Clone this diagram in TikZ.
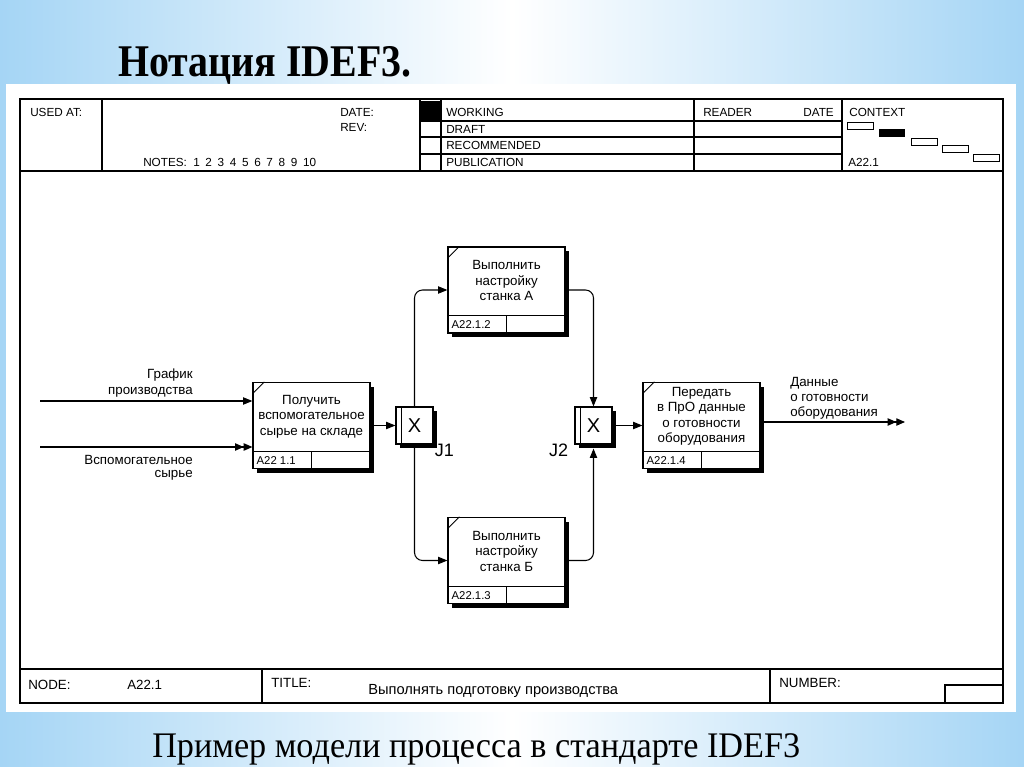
\documentclass[tikz,border=0pt]{standalone}
\usepackage{fontspec}
\setmainfont{Liberation Serif}
\setsansfont{Liberation Sans}
\newfontfamily\titlefont{Liberation Serif}[FakeStretch=0.88]
\newfontfamily\capfont{Liberation Serif}[FakeStretch=0.95]
\usepackage{tikz}
\usetikzlibrary{positioning,arrows.meta,shadows}
\definecolor{slide}{RGB}{165,213,245}

\begin{document}
\begin{tikzpicture}[x=0.75pt, y=-0.75pt,
    formline/.style={line width=1pt},
    uob/.style={draw, line width=0.9pt, fill=white, minimum width=87.75pt,
                minimum height=64.5pt, inner sep=0pt,
                drop shadow={shadow xshift=3pt, shadow yshift=-3pt, fill=black, opacity=1}},
    uobtext/.style={font=\sffamily\fontsize{10}{11.6}\selectfont, align=center, inner sep=0pt},
    uobid/.style={font=\sffamily\fontsize{8.5}{10}\selectfont, inner sep=0pt, anchor=west},
    junction/.style={draw, line width=0.9pt, fill=white, minimum size=27.75pt, inner sep=0pt,
                font=\sffamily\fontsize{15}{15}\selectfont,
                drop shadow={shadow xshift=3pt, shadow yshift=-3pt, fill=black, opacity=1}},
    jlabel/.style={font=\sffamily\fontsize{13.5}{13.5}\selectfont, inner sep=0pt},
    flow/.style={line width=0.8pt, -{Triangle[length=7pt, width=5.5pt]}},
    flow2/.style={line width=0.8pt, -{Triangle[length=6.5pt, width=5.5pt] Triangle[length=6.5pt, width=5.5pt]}},
    arclabel/.style={font=\sffamily\fontsize{10}{12}\selectfont, inner sep=0pt},
    form/.style={font=\sffamily\fontsize{8.8}{10}\selectfont, inner sep=0pt, anchor=base west},
    foot/.style={font=\sffamily\fontsize{10}{12}\selectfont, inner sep=0pt, anchor=base west}
  ]
    % slide background
    \useasboundingbox (0,0) rectangle (1024,767);
    \shade[left color=slide, right color=slide, middle color=white] (0,0) rectangle (1024,767);
    \fill[white] (6,84) rectangle (1016,712);

    \node[anchor=base west, inner sep=0pt, font=\titlefont\bfseries\fontsize{34}{34}\selectfont]
      (title) at (118,76) {Нотация IDEF3.};
    \node[anchor=base west, inner sep=0pt, font=\capfont\fontsize{27}{27}\selectfont]
      (caption) at (152,757) {Пример модели процесса в стандарте IDEF3};

    % form frame
    \draw[formline] (20,99) rectangle (1003,703);
    \draw[formline] (20,171) -- (1003,171);
    \draw[formline] (20,669) -- (1003,669);
    \foreach \x in {102,420,441,694,842}
      \draw[formline] (\x,99) -- (\x,171);
    \foreach \y in {121,137,154}
      \draw[formline] (420,\y) -- (842,\y);
    \fill (420,101) rectangle (441,121);
    \draw[formline] (262,669) -- (262,703);
    \draw[formline] (770,669) -- (770,703);
    \draw[formline] (945,703) -- (945,685) -- (1003,685);

    % header texts
    \node[form] (usedat) at (30,116) {USED AT:};
    \node[form] (datelbl) at (340,116) {DATE:};
    \node[form] (revlbl) at (340,132) {REV:};
    \node[form] (notes) at (143,166) {NOTES:};
    \foreach \k in {1,...,10}
      \node[form] (note\k) at ({193+12.2*(\k-1)},166) {\k};
    \node[form] (working) at (446,116) {WORKING};
    \node[form] (draft) at (446,133) {DRAFT};
    \node[form] (recommended) at (446,149) {RECOMMENDED};
    \node[form] (publication) at (446,166) {PUBLICATION};
    \node[form] (reader) at (703,116) {READER};
    \node[form, anchor=base east] (rdate) at (834,116) {DATE};
    \node[form] (context) at (849,116) {CONTEXT};
    \node[form] (ctxnode) at (848,166) {A22.1};
    \foreach \cx/\cy in {847/122, 911/138, 942/145, 973/154}
      \draw[line width=0.7pt] (\cx,\cy) rectangle ++(26,7);
    \fill (879,129) rectangle ++(26,8);

    % footer texts
    \node[foot] (nodelbl) at (28,689) {NODE:};
    \node[foot] (nodeno) at (127,689) {A22.1};
    \node[foot] (titlelbl) at (271,687) {TITLE:};
    \node[foot, font=\sffamily\fontsize{11}{12}\selectfont] (titletext) at (368,694)
      {Выполнять подготовку производства};
    \node[foot] (numberlbl) at (779,687) {NUMBER:};

    % units of behaviour
    \node[uob] (p1) at (311.5,425.5) {};
    \node[uob] (p2) at (506.5,290) {};
    \node[uob] (p3) at (506.5,560.5) {};
    \node[uob] (p4) at (701.5,425.5) {};
    \foreach \b/\id in {p1/A22 1.1, p2/A22.1.2, p3/A22.1.3, p4/A22.1.4} {
      \draw[line width=0.7pt] ([yshift=13.5pt]\b.south west) -- ([yshift=13.5pt]\b.south east);
      \draw[line width=0.7pt] ([xshift=44.25pt]\b.south west) -- ([xshift=44.25pt,yshift=13.5pt]\b.south west);
      \draw[line width=0.7pt] ([yshift=-9pt]\b.north west) -- ([xshift=9pt]\b.north west);
      \node[uobid] (\b-id) at ([xshift=3pt,yshift=6.75pt]\b.south west) {\id};
    }
    \node[uobtext] (p1t) at ([yshift=-25.9pt]p1.north) {Получить\\вспомогательное\\сырье на складе};
    \node[uobtext] (p2t) at ([yshift=-25.9pt]p2.north) {Выполнить\\настройку\\станка А};
    \node[uobtext] (p3t) at ([yshift=-25.9pt]p3.north) {Выполнить\\настройку\\станка Б};
    \node[uobtext] (p4t) at ([yshift=-25.9pt]p4.north) {Передать\\в ПрО данные\\о готовности\\оборудования};

    % junctions
    \node[junction] (j1) at (414.5,425.5) {X};
    \node[junction] (j2) at (593.5,425.5) {X};
    \foreach \j in {j1,j2}
      \draw[line width=0.7pt] ([xshift=4.5pt]\j.north west) -- ([xshift=4.5pt]\j.south west);
    \node[jlabel, anchor=north west] (j1l) at ([xshift=0.8pt,yshift=0.5pt]j1.south east) {J1};
    \node[jlabel, anchor=north east] (j2l) at ([xshift=-4.5pt,yshift=0.5pt]j2.south west) {J2};

    % links
    \coordinate (in1) at (40,401);
    \coordinate (in2) at (40,447);
    \coordinate (out) at (905,422);
    \draw[flow] (in1) -- (in1 -| p1.west);
    \draw[flow2] (in2) -- (in2 -| p1.west);
    \draw[flow] (p1) -- (j1);
    \draw[flow, rounded corners=6pt] (j1.north) |- (p2.west);
    \draw[flow, rounded corners=6pt] (j1.south) |- (p3.west);
    \draw[flow, rounded corners=6pt] (p2.east) -| (j2.north);
    \draw[flow, rounded corners=6pt] (p3.east) -| ([yshift=-3pt]j2.south);
    \draw[flow] (j2) -- (p4);
    \draw[flow2] (p4.east |- out) -- (out);

    \node[arclabel, align=right, anchor=south east] (lsched) at (193,398) {График\\производства};
    \node[arclabel, align=right, anchor=north east, font=\sffamily\fontsize{10}{9.6}\selectfont]
      (lraw) at (193,455) {Вспомогательное\\сырье};
    \node[arclabel, align=left, anchor=north west, font=\sffamily\fontsize{10}{11.25}\selectfont]
      (lready) at (790,377) {Данные\\о готовности\\оборудования};
\end{tikzpicture}
\end{document}
